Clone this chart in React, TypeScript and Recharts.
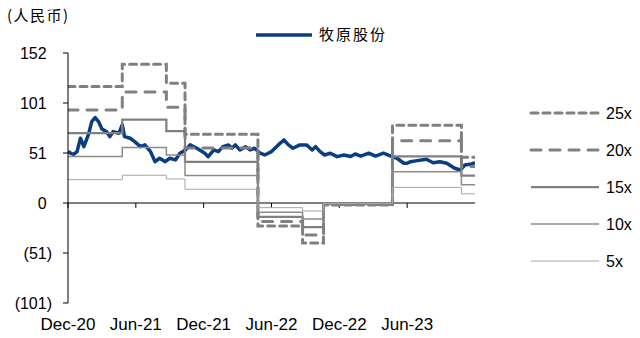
import React from 'react';
import { ComposedChart, Line, XAxis, YAxis, ReferenceLine } from 'recharts';

// Months since Dec-20 for the share price samples
const priceT = [
  0.0, 0.3, 0.5, 0.8, 1.1, 1.4, 1.8, 2.1, 2.4, 2.7,
  3.0, 3.4, 3.7, 4.0, 4.5, 4.8, 5.0, 5.5, 5.9, 6.4,
  6.8, 7.3, 7.7, 8.1, 8.6, 9.0, 9.5, 9.9, 10.4, 10.8,
  11.4, 12.1, 12.4, 12.9, 13.3, 13.7, 14.2, 14.5, 14.8, 15.2,
  15.7, 16.1, 16.5, 17.0, 17.4, 18.0, 18.6, 19.1, 19.5, 19.9,
  20.5, 21.1, 21.6, 21.9, 22.3, 22.7, 23.2, 23.8, 24.4, 25.0,
  25.4, 25.9, 26.6, 27.2, 27.9, 28.5, 29.1, 29.7, 30.0, 30.3,
  30.9, 31.7, 32.3, 32.9, 33.5, 34.2, 34.7, 35.1, 35.7, 36.0,
];
const priceV = [
  52, 50, 49.3, 52, 65.5, 57, 68.9, 82.4, 86.4, 82.4,
  75, 72.3, 67.2, 72.3, 70.6, 79, 67.2, 65.5, 62.1, 57,
  58.8, 52, 41.8, 45.3, 41.8, 45.3, 43.6, 50.4, 53.7, 58.8,
  55.4, 50.4, 46.9, 53.7, 52, 57, 58.8, 55.4, 58.8, 53.7,
  57, 53.7, 55.4, 50.4, 48.6, 52, 58.8, 63.8, 58.8, 55.4,
  58.8, 58.8, 53.7, 57, 52, 48.6, 50.4, 46.9, 48.6, 47,
  49.6, 47.5, 50.4, 47.5, 50.4, 47.6, 45.3, 40.2, 40.2, 41.8,
  42.9, 44.3, 40.8, 41.8, 40.2, 35.2, 33.4, 38.5, 39.5, 40.8,
];

// PE band step boundaries (months since Dec-20) and band values
const bandT = [0, 4.8, 8.7, 10.35, 16.8, 20.75, 22.6, 28.7, 34.8, 36];
const pe25 = [117.8, 140.5, 121.3, 69.5, -23.3, -40.5, -2.0, 78.8, 46.3, 46.3];
const pe20 = [94.2, 112.4, 97.0, 55.6, -18.6, -32.4, -1.6, 63.0, 37.0, 37.0];
const pe15 = [70.7, 84.3, 72.8, 41.7, -14.0, -24.3, -1.2, 47.3, 27.8, 27.8];
const pe10 = [47.1, 56.2, 48.5, 27.8, -9.3, -16.2, -0.8, 31.5, 18.5, 18.5];
const pe5 = [23.6, 28.1, 24.3, 13.9, -4.7, -8.1, -0.4, 15.8, 9.3, 9.3];

const xTicks = [0, 6, 12, 18, 24, 30];
const xTickLabels = ['Dec-20', 'Jun-21', 'Dec-21', 'Jun-22', 'Dec-22', 'Jun-23'];
const yTicks = [-101.2, -50.6, 0, 50.6, 101.2, 151.8];

const priceName = '牧原股份';
const unitLabel = '(人民币)';

const PRICE_COLOR = '#0B3D82';
const FONT = '"Liberation Sans", Arial, sans-serif';

const bands = [
  { key: 'pe25', name: '25x', values: pe25, stroke: '#808080', width: 3, dash: '7 5', cap: 'round' },
  { key: 'pe20', name: '20x', values: pe20, stroke: '#808080', width: 3, dash: '10 9', cap: 'round' },
  { key: 'pe15', name: '15x', values: pe15, stroke: '#808080', width: 2.25, dash: undefined, cap: 'butt' },
  { key: 'pe10', name: '10x', values: pe10, stroke: '#8c8c8c', width: 1.5, dash: undefined, cap: 'butt' },
  { key: 'pe5', name: '5x', values: pe5, stroke: '#a6a6a6', width: 1, dash: undefined, cap: 'butt' },
];

const bandData = bandT.map((t, i) => {
  const row: any = { t };
  bands.forEach((b) => {
    row[b.key] = b.values[i];
  });
  return row;
});
const priceData = priceT.map((t, i) => ({ t, v: priceV[i] }));

const YTick = (props: any) => {
  const { x, y, payload } = props;
  const v = Math.round(payload.value);
  const neg = v < 0;
  return (
    <text x={x} y={y} dy="0.36em" textAnchor="end" fontSize={16} fill="#000" fontFamily={FONT}>
      {neg ? `(${Math.abs(v)})` : `${v}`}
      {!neg && <tspan fillOpacity={0}>)</tspan>}
    </text>
  );
};

const XTick = (props: any) => {
  const { x, y, payload } = props;
  const idx = xTicks.indexOf(payload.value);
  return (
    <text x={x} y={y} dy="0.72em" textAnchor="middle" fontSize={17} fill="#000" fontFamily={FONT}>
      {xTickLabels[idx]}
    </text>
  );
};

const legendY = [113, 150, 187, 224, 261];

export default function App() {
  return (
    <div style={{ position: 'absolute', left: 0, top: 0, width: 640, height: 338, background: '#fff' }}>
      <ComposedChart width={640} height={338} margin={{ top: 53, right: 165, bottom: 0, left: 0 }}>
        <XAxis
          dataKey="t"
          type="number"
          domain={[0, 36]}
          ticks={xTicks}
          axisLine={false}
          tickLine={false}
          height={35}
          tickMargin={9}
          tick={<XTick />}
          allowDataOverflow
        />
        <YAxis
          type="number"
          domain={[yTicks[0], yTicks[yTicks.length - 1]]}
          ticks={yTicks}
          width={68}
          axisLine={{ stroke: '#000', strokeWidth: 1 }}
          tickLine={{ stroke: '#000' }}
          tickSize={5}
          tickMargin={11}
          tick={<YTick />}
          interval={0}
          allowDataOverflow
        />
        <ReferenceLine y={0} stroke="#000" strokeWidth={1} />
        {xTicks.map((t) => (
          <ReferenceLine
            key={`xt${t}`}
            segment={[{ x: t, y: 0 }, { x: t, y: -5 }]}
            stroke="#000"
            strokeWidth={1}
          />
        ))}
        <Line
          data={priceData}
          dataKey="v"
          type="linear"
          stroke={PRICE_COLOR}
          strokeWidth={3.5}
          dot={false}
          isAnimationActive={false}
          strokeLinejoin="round"
        />
        {bands.map((b) => (
          <Line
            key={b.key}
            data={bandData}
            dataKey={b.key}
            type="stepAfter"
            stroke={b.stroke}
            strokeWidth={b.width}
            strokeDasharray={b.dash}
            strokeLinecap={b.cap as any}
            dot={false}
            isAnimationActive={false}
          />
        ))}
      </ComposedChart>
      <svg
        width={640}
        height={338}
        style={{ position: 'absolute', left: 0, top: 0, pointerEvents: 'none' }}
      >
        <text x={7} y={16} dy="0.36em" fontSize={15} letterSpacing={1.5} fill="#000" fontFamily='"Noto Sans CJK SC", sans-serif'>
          {unitLabel}
        </text>
        <line x1={256} x2={312} y1={35} y2={35} stroke={PRICE_COLOR} strokeWidth={3.5} />
        <text x={319} y={35} dy="0.36em" fontSize={15} letterSpacing={2} fill="#000" fontFamily='"Noto Sans CJK SC", sans-serif'>
          {priceName}
        </text>
        {bands.map((b, i) => (
          <g key={b.key}>
            <line
              x1={531}
              x2={599}
              y1={legendY[i]}
              y2={legendY[i]}
              stroke={b.stroke}
              strokeWidth={b.width}
              strokeDasharray={b.dash}
              strokeLinecap={b.cap as any}
            />
            <text x={606} y={legendY[i]} dy="0.36em" fontSize={16} fill="#000" fontFamily={FONT}>
              {b.name}
            </text>
          </g>
        ))}
      </svg>
    </div>
  );
}
